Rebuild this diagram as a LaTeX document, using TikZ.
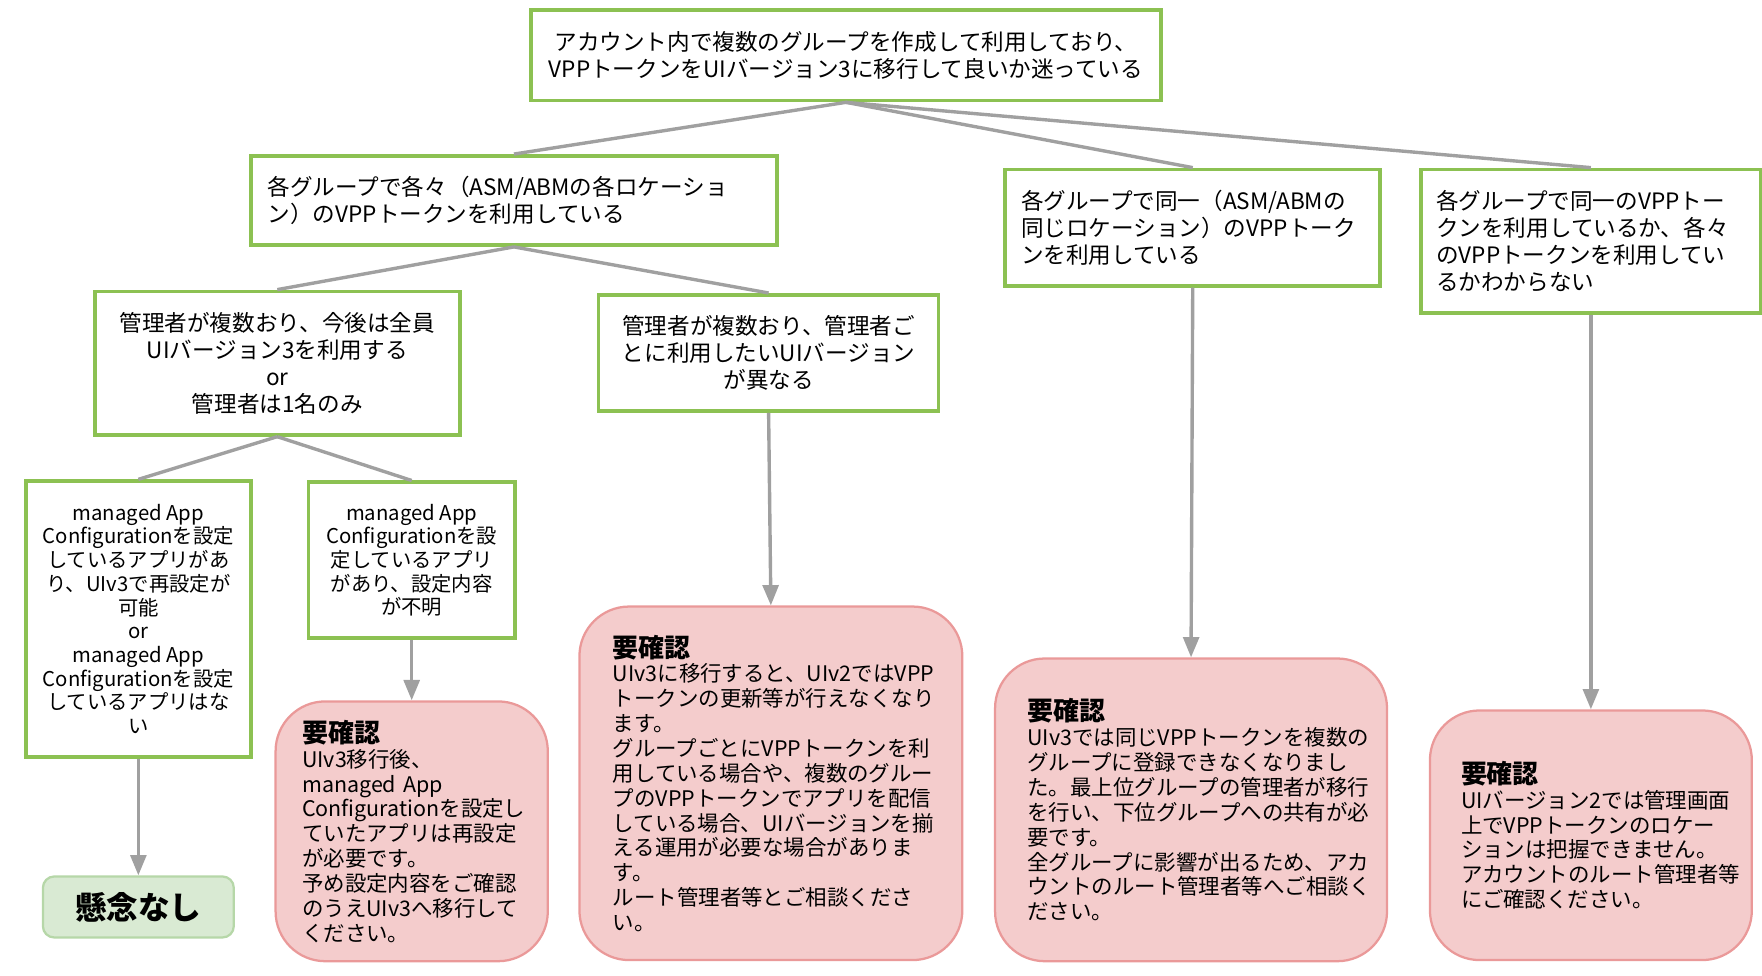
\documentclass[tikz,border=0pt]{standalone}
\usepackage{fontspec}
\setmainfont{Noto Sans CJK JP}
\usetikzlibrary{arrows.meta}
\begin{document}
\begin{tikzpicture}[x=0.5pt,y=-0.5pt,
  gbox/.style={draw=gb, line width=1.6pt, fill=white, inner sep=0pt, font=\fontsize{10}{12}\selectfont},
  rbox/.style={draw=rb, line width=1pt, fill=rf, rounded corners=22pt, inner sep=0pt, font=\fontsize{9.5}{11}\selectfont, align=left},
  conn/.style={draw=lg, line width=1.5pt},
  arr/.style={conn, -{Triangle[length=9pt,width=7pt]}}]
\definecolor{gb}{HTML}{8CC152}
\definecolor{rb}{HTML}{EA9999}
\definecolor{rf}{HTML}{F4CCCC}
\definecolor{lg}{HTML}{A0A0A0}
\definecolor{okf}{HTML}{D9EAD3}
\definecolor{okb}{HTML}{B6D7A8}
\useasboundingbox (0,0) rectangle (1560,864);
\node[gbox, minimum width=279pt, minimum height=40pt, align=center] (top) at (749,49) {アカウント内で複数のグループを作成して利用しており、\\VPPトークンをUIバージョン3に移行して良いか迷っている};
\node[gbox, minimum width=233pt, minimum height=39.5pt, text width=218pt, align=left] (A) at (455,177.5) {各グループで各々（ASM/ABMの各ロケーショ\\ン）のVPPトークンを利用している};
\node[gbox, minimum width=166pt, minimum height=51.5pt, text width=152pt, align=left] (B) at (1056,201.5) {各グループで同一（ASM/ABMの\\同じロケーション）のVPPトーク\\ンを利用している};
\node[gbox, minimum width=150.5pt, minimum height=63.5pt, text width=137pt, align=left] (C) at (1408.5,213.5) {各グループで同一のVPPトー\\クンを利用しているか、各々\\のVPPトークンを利用してい\\るかわからない};
\node[gbox, minimum width=161.5pt, minimum height=63.5pt, align=center] (D) at (245.5,321.5) {管理者が複数おり、今後は全員\\UIバージョン3を利用する\\or\\管理者は1名のみ};
\node[gbox, minimum width=150.5pt, minimum height=51.5pt, align=center] (E) at (680.5,312.5) {管理者が複数おり、管理者ご\\とに利用したいUIバージョン\\が異なる};
\node[gbox, minimum width=99.5pt, minimum height=122pt, align=center, font=\fontsize{9}{10.5}\selectfont] (F) at (122.5,548) {managed App\\Configurationを設定\\しているアプリがあ\\り、UIv3で再設定が\\可能\\or\\managed App\\Configurationを設定\\しているアプリはな\\い};
\node[gbox, minimum width=91.5pt, minimum height=69pt, align=center, font=\fontsize{9}{10.5}\selectfont] (G) at (364.5,496) {managed App\\Configurationを設\\定しているアプリ\\があり、設定内容\\が不明};
\node[draw=okb, line width=1pt, fill=okf, rounded corners=5pt, minimum width=84.5pt, minimum height=27pt, font=\fontsize{14}{16}\selectfont\bfseries] (OK) at (122.5,803) {懸念なし};
\node[rbox, minimum width=120.5pt, minimum height=115pt, text width=97pt] (R1) at (364.5,736) {{\fontsize{11.5}{14}\selectfont\bfseries 要確認}\\UIv3移行後、\\managed App\\Configurationを設定し\\ていたアプリは再設定\\が必要です。\\予め設定内容をご確認\\のうえUIv3へ移行して\\ください。};
\node[rbox, minimum width=169.5pt, minimum height=156.5pt, text width=140pt] (R2) at (682.5,693.5) {{\fontsize{11.5}{14}\selectfont\bfseries 要確認}\\UIv3に移行すると、UIv2ではVPP\\トークンの更新等が行えなくなり\\ます。\\グループごとにVPPトークンを利\\用している場合や、複数のグルー\\プのVPPトークンでアプリを配信\\している場合、UIバージョンを揃\\える運用が必要な場合がありま\\す。\\ルート管理者等とご相談くださ\\い。};
\node[rbox, minimum width=173.5pt, minimum height=134pt, text width=145pt] (R3) at (1054.5,717) {{\fontsize{11.5}{14}\selectfont\bfseries 要確認}\\UIv3では同じVPPトークンを複数の\\グループに登録できなくなりまし\\た。最上位グループの管理者が移行\\を行い、下位グループへの共有が必\\要です。\\全グループに影響が出るため、アカ\\ウントのルート管理者等へご相談く\\ださい。};
\node[rbox, minimum width=142.5pt, minimum height=110.5pt, text width=115pt] (R4) at (1408.5,739.5) {{\fontsize{11.5}{14}\selectfont\bfseries 要確認}\\UIバージョン2では管理画面\\上でVPPトークンのロケー\\ションは把握できません。\\アカウントのルート管理者等\\にご確認ください。};
\draw[conn] (top.south) -- (A.north);
\draw[conn] (top.south) -- (B.north);
\draw[conn] (top.south) -- (C.north);
\draw[conn] (A.south) -- (D.north);
\draw[conn] (A.south) -- (E.north);
\draw[conn] (D.south) -- (F.north);
\draw[conn] (D.south) -- (G.north);
\draw[arr] (F.south) -- (OK.north);
\draw[arr] (G.south) -- (R1.north);
\draw[arr] (E.south) -- (R2.north);
\draw[arr] (B.south) -- (R3.north);
\draw[arr] (C.south) -- (R4.north);
\end{tikzpicture}
\end{document}
